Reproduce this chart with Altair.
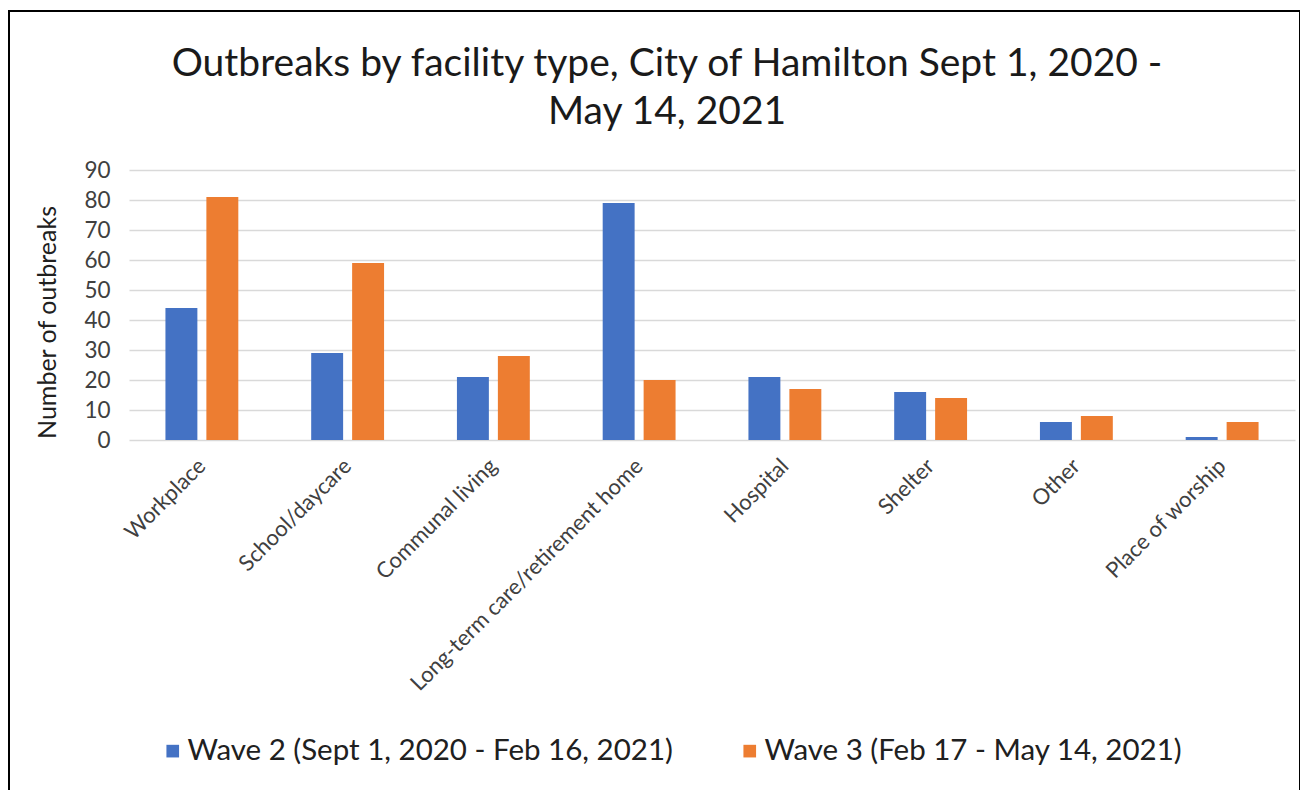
import altair as alt
import pandas as pd

categories = ["Workplace", "School/daycare", "Communal living",
              "Long-term care/retirement home", "Hospital", "Shelter",
              "Other", "Place of worship"]
wave2 = [44, 29, 21, 79, 21, 16, 6, 1]
wave3 = [81, 59, 28, 20, 17, 14, 8, 6]
series = ["Wave 2 (Sept 1, 2020 - Feb 16, 2021)", "Wave 3 (Feb 17 - May 14, 2021)"]
colors = ["#4472C4", "#ED7D31"]
y_ticks = list(range(0, 91, 10))
title_lines = ["Outbreaks by facility type, City of Hamilton Sept 1, 2020 -", "May 14, 2021"]

rows = []
for c, a, b in zip(categories, wave2, wave3):
    rows.append({"category": c, "wave": series[0], "value": a})
    rows.append({"category": c, "wave": series[1], "value": b})
df = pd.DataFrame(rows)

FONT = "Lato"
W, H = 1166, 270

bars = alt.Chart(df).mark_bar().encode(
    x=alt.X("category:N", sort=categories,
            scale=alt.Scale(paddingInner=0.5, paddingOuter=0.25),
            axis=alt.Axis(title=None, labelAngle=-45, labelAlign="right",
                          labelBaseline="top", labelPadding=15, labelOffset=-7,
                          labelFontSize=22, labelFont=FONT, labelColor="#404040",
                          domain=False, ticks=False, grid=False, labelLimit=0)),
    xOffset=alt.XOffset("wave:N", sort=series, scale=alt.Scale(paddingInner=0.22)),
    y=alt.Y("value:Q", scale=alt.Scale(domain=[0, 90], nice=False),
            axis=alt.Axis(values=y_ticks, title="Number of outbreaks",
                          titleFont=FONT, titleFontSize=25, titleFontWeight="normal",
                          titleColor="#202020", titleAngle=-90, titleAlign="center",
                          titleBaseline="middle", titleX=-82, titleY=152,
                          labelFont=FONT, labelFontSize=22.5, labelColor="#404040",
                          labelPadding=19, domain=False, ticks=False,
                          gridColor="#d9d9d9", gridWidth=1.5)),
    color=alt.Color("wave:N", sort=series,
                    scale=alt.Scale(domain=series, range=colors),
                    legend=alt.Legend(orient="none", legendX=29, legendY=566,
                                      direction="horizontal", title=None,
                                      symbolType="square", symbolSize=160,
                                      symbolStrokeWidth=0, labelFont=FONT,
                                      labelFontSize=29.5, labelColor="#202020",
                                      columnPadding=62, labelOffset=0,
                                      labelLimit=0)),
)

border = alt.Chart(pd.DataFrame({"a": [0]})).mark_rect(
    fill="transparent", stroke="black", strokeWidth=2
).encode(x=alt.value(-120), x2=alt.value(1171), y=alt.value(-159), y2=alt.value(640))

chart = alt.layer(bars, border).properties(
    width=W, height=H,
    padding={"left": 121, "top": 162, "right": 5, "bottom": 350},
    autosize=alt.AutoSizeParams(type="none"),
    title=alt.TitleParams(text=title_lines, font=FONT, fontSize=39,
                          fontWeight="normal", color="#1a1a1a", baseline="top",
                          anchor="middle", dx=-45, offset=-122, lineHeight=48),
).configure_view(strokeWidth=0)

chart.save("out.html", embed_options={"renderer": "svg", "actions": False})
